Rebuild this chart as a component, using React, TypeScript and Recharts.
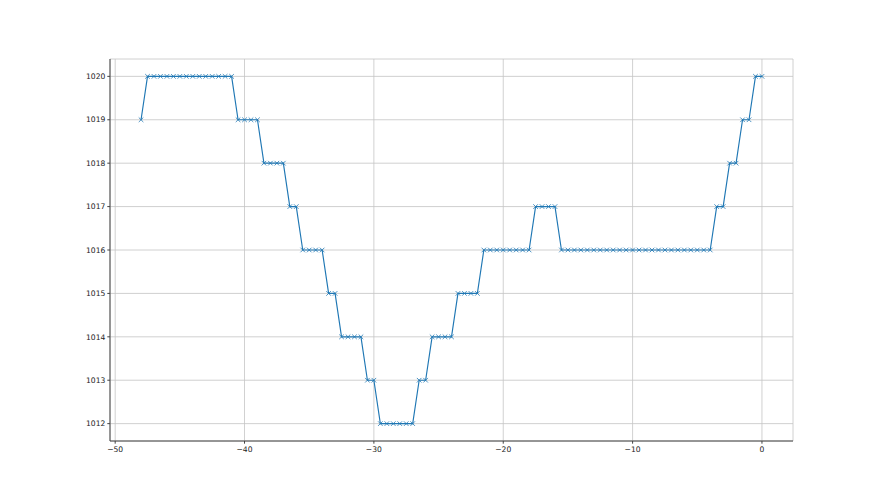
import { LineChart, Line, XAxis, YAxis, CartesianGrid } from "recharts";

// time offsets (x) and the pressure readings (y)
const xValues = [
	-48, -47.5, -47, -46.5, -46, -45.5, -45, -44.5, -44, -43.5, -43, -42.5, -42, -41.5, -41,
	-40.5, -40, -39.5, -39, -38.5, -38, -37.5, -37, -36.5, -36, -35.5, -35, -34.5, -34,
	-33.5, -33, -32.5, -32, -31.5, -31, -30.5, -30, -29.5, -29, -28.5, -28, -27.5, -27,
	-26.5, -26, -25.5, -25, -24.5, -24, -23.5, -23, -22.5, -22, -21.5, -21, -20.5, -20,
	-19.5, -19, -18.5, -18, -17.5, -17, -16.5, -16, -15.5, -15, -14.5, -14, -13.5, -13,
	-12.5, -12, -11.5, -11, -10.5, -10, -9.5, -9, -8.5, -8, -7.5, -7, -6.5, -6, -5.5, -5,
	-4.5, -4, -3.5, -3, -2.5, -2, -1.5, -1, -0.5, 0,
];

const pressure = [
	1019, 1020, 1020, 1020, 1020, 1020, 1020, 1020, 1020, 1020, 1020, 1020, 1020, 1020, 1020,
	1019, 1019, 1019, 1019, 1018, 1018, 1018, 1018, 1017, 1017, 1016, 1016, 1016, 1016,
	1015, 1015, 1014, 1014, 1014, 1014, 1013, 1013, 1012, 1012, 1012, 1012, 1012, 1012,
	1013, 1013, 1014, 1014, 1014, 1014, 1015, 1015, 1015, 1015, 1016, 1016, 1016, 1016,
	1016, 1016, 1016, 1016, 1017, 1017, 1017, 1017, 1016, 1016, 1016, 1016, 1016, 1016,
	1016, 1016, 1016, 1016, 1016, 1016, 1016, 1016, 1016, 1016, 1016, 1016, 1016, 1016, 1016, 1016,
	1016, 1016, 1017, 1017, 1018, 1018, 1019, 1019, 1020, 1020,
];

const xTicks = [-50, -40, -30, -20, -10, 0];
const yTicks = [1012, 1013, 1014, 1015, 1016, 1017, 1018, 1019, 1020];

const data = xValues.map((x, i) => ({ x, p: pressure[i] }));

const blue = "#1f77b4";
const axisColor = "#444";
const tickStyle = { fontFamily: "DejaVu Sans", fontSize: 7.6, fill: "#222" };

const fmt = (v: number) => String(v).replace("-", "\u2212");

const XMarker = (props: any) => {
	const { cx, cy, index } = props;
	if (cx == null || cy == null) return <g key={index} />;
	const r = 2.3;
	return (
		<g key={index} stroke={blue} strokeWidth={0.8}>
			<line x1={cx - r} y1={cy - r} x2={cx + r} y2={cy + r} />
			<line x1={cx - r} y1={cy + r} x2={cx + r} y2={cy - r} />
		</g>
	);
};

export default function App() {
	return (
		<div style={{ position: "absolute", left: 0, top: 0, background: "#fff" }}>
			<LineChart
				width={880}
				height={495}
				data={data}
				margin={{ top: 59, right: 87, bottom: 24, left: 70 }}
			>
				<CartesianGrid stroke="#c4c4c4" strokeWidth={0.8} />
				<XAxis
					dataKey="x"
					type="number"
					domain={[-50.4, 2.4]}
					ticks={xTicks}
					allowDataOverflow
					height={30}
					tickSize={2.7}
					tickMargin={2.5}
					tickFormatter={fmt}
					tick={tickStyle}
					stroke={axisColor}
				/>
				<XAxis
					xAxisId="top"
					orientation="top"
					dataKey="x"
					type="number"
					domain={[-50.4, 2.4]}
					height={0}
					tick={false}
					tickLine={false}
					stroke={axisColor}
				/>
				<YAxis
					type="number"
					domain={[1011.6, 1020.4]}
					ticks={yTicks}
					allowDataOverflow
					width={40}
					tickSize={2.7}
					tickMargin={2}
					tick={tickStyle}
					stroke={axisColor}
				/>
				<YAxis
					yAxisId="right"
					orientation="right"
					type="number"
					domain={[1011.6, 1020.4]}
					width={0}
					tick={false}
					tickLine={false}
					stroke={axisColor}
				/>
				<Line
					dataKey="p"
					type="linear"
					stroke={blue}
					strokeWidth={1.15}
					dot={XMarker}
					activeDot={false}
					isAnimationActive={false}
				/>
			</LineChart>
		</div>
	);
}
